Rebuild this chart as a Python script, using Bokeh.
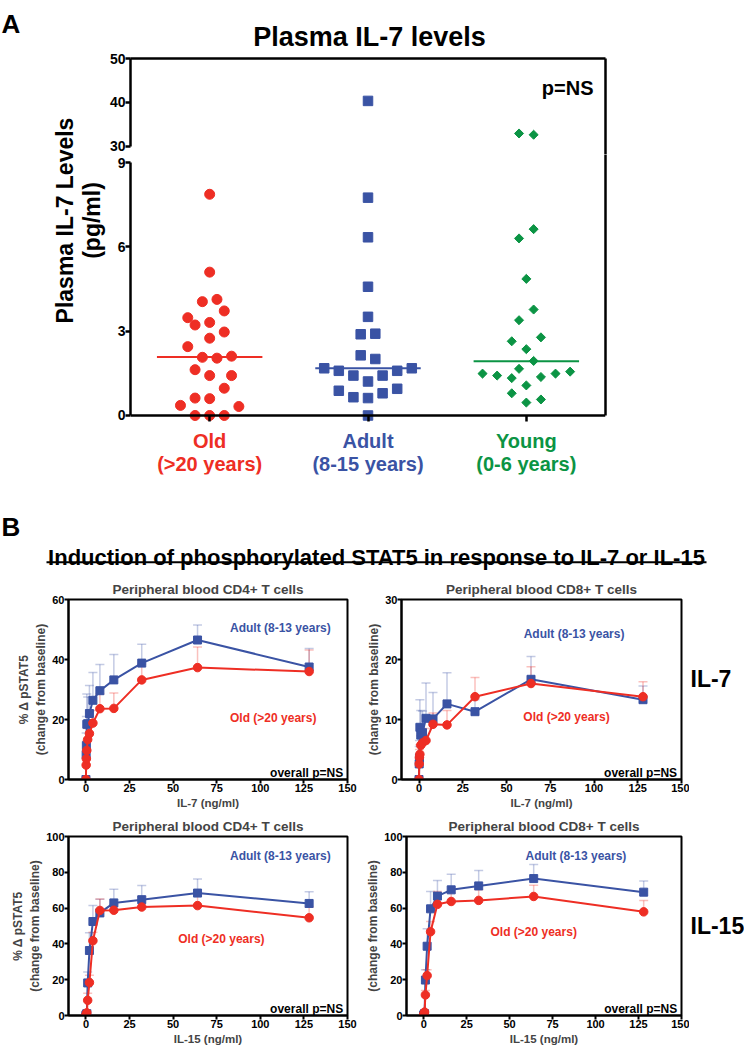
import math
from bokeh.plotting import figure
from bokeh.models import Range1d, LinearAxis, FixedTicker, Label, BoxAnnotation
from bokeh.layouts import column, row
from bokeh.embed import file_html
from bokeh.resources import INLINE

FONT = "Liberation Sans"
RED = "#ee2e24"
BLUE = "#3a53a4"
GREEN = "#0b9444"

# ---------------- Panel A data (plasma IL-7, pg/ml) ----------------
group_names = ["Old", "Adult", "Young"]
group_ages = ["(>20 years)", "(8-15 years)", "(0-6 years)"]
group_colors = [RED, BLUE, GREEN]

old_il7 = [7.87, 5.10, 4.05, 4.13, 3.72, 3.48, 3.22, 3.31, 2.97, 2.75, 2.45, 2.07, 2.04,
           2.11, 1.63, 1.42, 1.42, 0.97, 0.62, 0.60, 0.36, 0.32, 0.0, 0.0, 0.0]
old_slot = [0, 0, -1, 1, 2, -3, -2, 0, 2, 0, -3, -1, 1, 3, -2, 0, 3, 2, -2, 0, -4, 4, -2, 0, 2]
adult_il7 = [40.36, 7.75, 6.34, 4.58, 3.51, 2.89, 2.91, 2.14, 2.01, 1.68, 1.68, 1.59, 1.59,
             1.42, 1.42, 1.21, 0.88, 0.95, 0.65, 0.79, 0.62, 0.0]
adult_slot = [0, 0, 0, 0, 0, -1, 1, -1, 1, -6, 6, -4, 4, -2, 2, 0, -4, 4, -2, 2, 0, 0]
young_il7 = [32.96, 32.67, 6.63, 6.30, 4.86, 3.77, 3.39, 2.78, 2.64, 2.36, 1.94, 1.66, 1.49,
             1.42, 1.33, 1.37, 1.49, 1.56, 1.07, 0.79, 0.57, 0.46]
young_slot = [-1, 1, 1, -1, 0, 1, -1, 2, -2, 0, 1, -1, -6, -4, -2, 2, 4, 6, 0, -2, 2, 0]
medians_il7 = [2.08, 1.68, 1.93]
lower_ticks = [0, 3, 6, 9]
upper_ticks = [30, 40, 50]

# ---------------- Panel B data (% change in pSTAT5) ----------------
doses = [0, 0.125, 0.25, 0.5, 1, 2, 4, 8, 16, 32, 64, 128]
x_ticks = [0, 25, 50, 75, 100, 125, 150]

cd4_il7_adult = [0, 8.3, 11.3, 18.4, 18.6, 22.0, 26.4, 29.6, 33.2, 38.8, 46.5, 37.5]
cd4_il7_adult_sem = [0, 7.2, 9.7, 10.1, 8.9, 9.3, 9.3, 8.7, 8.5, 6.3, 5.0, 6.2]
cd4_il7_old = [0, 4.8, 6.9, 9.7, 13.3, 15.3, 18.8, 23.6, 23.7, 33.2, 37.3, 36.0]
cd4_il7_old_sem = [0, 2.2, 2.6, 3.3, 3.7, 4.2, 4.2, 4.9, 5.1, 5.3, 6.9, 7.2]

cd8_il7_adult = [0, 2.6, 3.6, 8.7, 7.4, 7.8, 10.2, 10.1, 12.6, 11.3, 16.7, 13.3]
cd8_il7_adult_sem = [0, 2.9, 2.9, 4.6, 4.1, 3.6, 5.9, 4.4, 5.2, 2.0, 3.8, 2.3]
cd8_il7_old = [0, 2.6, 3.7, 4.2, 5.7, 6.1, 6.5, 9.2, 9.1, 13.8, 16.0, 13.8]
cd8_il7_old_sem = [0, 0.9, 1.3, 1.6, 1.6, 2.2, 2.0, 1.9, 2.4, 3.2, 2.8, 2.5]

cd4_il15_adult = [0, 0.2, 0.5, 1.0, 18.2, 36.3, 52.5, 57.3, 62.9, 64.7, 68.4, 62.6]
cd4_il15_adult_sem = [0, 0.3, 0.5, 1.0, 6.1, 9.9, 8.9, 7.6, 7.7, 7.9, 7.8, 6.5]
cd4_il15_old = [0, 0.3, 0.8, 1.5, 8.5, 18.4, 41.8, 58.7, 58.8, 60.6, 61.4, 54.6]
cd4_il15_old_sem = [0, 0.3, 0.7, 1.5, 4.0, 4.1, 4.7, 6.4, 3.2, 5.7, 7.0, 5.9]

cd8_il15_adult = [0, 0.3, 0.6, 1.0, 19.8, 38.7, 59.6, 66.7, 70.2, 72.4, 76.5, 68.9]
cd8_il15_adult_sem = [0, 0.3, 0.5, 0.8, 5.8, 9.7, 9.7, 8.7, 8.7, 8.6, 7.9, 6.3]
cd8_il15_old = [0, 0.5, 1.0, 1.9, 11.5, 22.3, 46.8, 62.1, 63.7, 64.3, 66.5, 57.9]
cd8_il15_old_sem = [0, 0.4, 0.6, 1.0, 2.5, 3.3, 5.7, 7.2, 4.8, 6.0, 6.2, 6.3]


def style_axis(ax, size, lw, tick_out, standoff):
    ax.axis_line_color = "black"
    ax.axis_line_width = lw
    ax.major_tick_line_color = "black"
    ax.major_tick_line_width = lw
    ax.major_tick_out = tick_out
    ax.major_tick_in = 0
    ax.minor_tick_line_color = None
    ax.major_label_text_font = FONT
    ax.major_label_text_font_style = "bold"
    ax.major_label_text_font_size = size
    ax.major_label_text_color = "black"
    ax.major_label_standoff = standoff


def bare_axis(**kw):
    ax = LinearAxis(ticker=FixedTicker(ticks=[]), **kw)
    ax.axis_line_color = "black"
    ax.axis_line_width = 2.5
    ax.major_tick_line_color = None
    ax.minor_tick_line_color = None
    return ax


def lab(text, size, color="black", **kw):
    return Label(text=text, text_font=FONT, text_font_style="bold",
                 text_font_size=size, text_color=color, **kw)


def text_fig(w, h, **kw):
    f = figure(width=w, height=h, x_range=Range1d(0, w), y_range=Range1d(0, h),
               x_axis_type=None, y_axis_type=None, output_backend="svg",
               toolbar_location=None, **kw)
    f.outline_line_color = None
    return f


# ================= Panel A header =================
ha = text_fig(744, 50, min_border=0)
ha.add_layout(lab("A", "26px", x=1, y=27, text_align="left", text_baseline="alphabetic"))
ha.add_layout(lab("Plasma IL-7 levels", "27px", x=369, y=14, text_align="center",
                  text_baseline="alphabetic"))

# ================= Panel A y-axis title =================
PANEL_A_H = 434
yl = text_fig(106, PANEL_A_H, min_border=0)
yl.add_layout(lab("Plasma IL-7 Levels", "23px", x=64, y=PANEL_A_H - 170, angle=math.pi / 2,
                  text_align="center", text_baseline="middle"))
yl.add_layout(lab("(pg/ml)", "23px", x=91, y=PANEL_A_H - 170, angle=math.pi / 2,
                  text_align="center", text_baseline="middle"))

# ================= Panel A plot (broken y axis: upper + lower part) =================
SLOT = 0.0461      # x-units per beeswarm half slot
xr = Range1d(0.5, 3.5)

top = figure(width=519, height=104, x_range=xr, y_range=Range1d(28.18, 50),
             x_axis_type=None, y_axis_type=None,
             min_border_left=22, min_border_right=20, min_border_top=8, min_border_bottom=0,
             output_backend="svg", toolbar_location=None)
top.outline_line_color = None
ta = LinearAxis(bounds=(30, 50), ticker=FixedTicker(ticks=upper_ticks))
style_axis(ta, "14px", 2.5, 5, 0)
top.add_layout(ta, "left")
top.add_layout(bare_axis(), "right")
top.add_layout(bare_axis(), "above")

LOW_TOP = 9.285
bot = figure(width=519, height=PANEL_A_H - 104, x_range=xr, y_range=Range1d(-2.099, LOW_TOP),
             x_axis_type=None, y_axis_type=None,
             min_border_left=22, min_border_right=20, min_border_top=0, min_border_bottom=10,
             output_backend="svg", toolbar_location=None)
bot.outline_line_color = None
ba = LinearAxis(bounds=(0, 9), ticker=FixedTicker(ticks=lower_ticks))
style_axis(ba, "14px", 2.5, 5, 0)
bot.add_layout(ba, "left")
bot.add_layout(bare_axis(bounds=(0, LOW_TOP)), "right")
bx = LinearAxis(ticker=FixedTicker(ticks=[1, 2, 3]), fixed_location=0,
                major_label_overrides={1: "", 2: "", 3: ""})
style_axis(bx, "1px", 2.5, 6, 0)
bot.add_layout(bx, "below")

series = [(old_il7, old_slot, "circle", 10, 0.0),
          (adult_il7, adult_slot, "square", 9.5, 0.0),
          (young_il7, young_slot, "square", 6.4, math.pi / 4)]
for gi, (vals, slots, marker, size, ang) in enumerate(series):
    xs = [gi + 1 + s * SLOT for s in slots]
    lo_x = [x for x, v in zip(xs, vals) if v <= 9]
    lo_y = [v for v in vals if v <= 9]
    hi_x = [x for x, v in zip(xs, vals) if v > 9]
    hi_y = [v for v in vals if v > 9]
    bot.scatter(lo_x, lo_y, marker=marker, size=size, angle=ang,
                fill_color=group_colors[gi], line_color=group_colors[gi])
    if hi_x:
        top.scatter(hi_x, hi_y, marker=marker, size=size, angle=ang,
                    fill_color=group_colors[gi], line_color=group_colors[gi])

bot.segment(x0=[i + 1 - 0.333 for i in range(3)], x1=[i + 1 + 0.333 for i in range(3)],
            y0=medians_il7, y1=medians_il7, line_color=group_colors, line_width=2)

top.add_layout(lab("p=NS", "20px", x=3.4245, y=43.4, text_align="right",
                   text_baseline="alphabetic"))
for i, (g, a, c) in enumerate(zip(group_names, group_ages, group_colors)):
    bot.add_layout(lab(g, "20px", c, x=i + 1, y=-0.925, text_align="center",
                       text_baseline="alphabetic"))
    bot.add_layout(lab(a, "20px", c, x=i + 1, y=-1.743, text_align="center",
                       text_baseline="alphabetic"))

panel_a = row(yl, column(top, bot))

# ================= Panel B header =================
hb = text_fig(744, 90, min_border=0)
hb.add_layout(lab("B", "26px", x=1, y=47.3, text_align="left", text_baseline="alphabetic"))
hb.add_layout(lab("Induction of phosphorylated STAT5 in response to IL-7 or IL-15", "22px",
                  x=376, y=17.3, text_align="center", text_baseline="alphabetic"))
hb.add_layout(BoxAnnotation(left=46, right=706, bottom=11.3, top=13.3,
                            fill_color="black", fill_alpha=1.0, line_color=None))


def stat5_panel(title, xlab, ylab, ymax, yticks, adult, adult_sem, old, old_sem,
                adult_xy, old_xy, width, height, bl, br, bt, bb):
    p = figure(width=width, height=height, x_range=Range1d(-10, 150), y_range=Range1d(0, ymax),
               min_border_left=bl, min_border_right=br, min_border_top=bt, min_border_bottom=bb,
               title=title, output_backend="svg", toolbar_location=None)
    p.title.align = "center"
    p.title.text_font = FONT
    p.title.text_font_size = "13.5px"
    p.title.text_font_style = "bold"
    if "standoff" in p.title.properties():
        p.title.standoff = 5
    p.grid.visible = False
    p.outline_line_color = "black"
    p.outline_line_width = 2
    p.outline_line_alpha = 1.0
    for ax in p.axis:
        style_axis(ax, "11px", 2, 4, 0)
        ax.axis_label_text_font = FONT
        ax.axis_label_text_font_style = "bold"
    p.xaxis.ticker = FixedTicker(ticks=x_ticks)
    p.yaxis.ticker = FixedTicker(ticks=yticks)
    p.xaxis.axis_label = xlab
    p.xaxis.axis_label_text_font_size = "11.5px"
    p.xaxis.axis_label_standoff = 2
    p.yaxis.axis_label = ylab
    p.yaxis.axis_label_text_font_size = "12px"
    p.yaxis.axis_label_standoff = 1

    for vals, sem, col in ((adult, adult_sem, BLUE), (old, old_sem, RED)):
        xs = [d for d, s in zip(doses, sem) if s > 0]
        lo = [v for v, s in zip(vals, sem) if s > 0]
        hi = [v + s for v, s in zip(vals, sem) if s > 0]
        p.segment(xs, lo, xs, hi, line_color=col, line_alpha=0.3, line_width=1.5)
        p.scatter(xs, hi, marker="dash", size=9, line_color=col, line_alpha=0.3, line_width=1.5)
    p.line(doses, adult, line_color=BLUE, line_width=2)
    p.scatter(doses, adult, marker="square", size=8, fill_color=BLUE, line_color=BLUE)
    p.line(doses, old, line_color=RED, line_width=2)
    p.scatter(doses, old, marker="circle", size=8.5, fill_color=RED, line_color=RED)

    p.add_layout(lab("Adult (8-13 years)", "12px", BLUE, x=adult_xy[0], y=adult_xy[1],
                     text_align="center", text_baseline="middle"))
    p.add_layout(lab("Old (>20 years)", "12px", RED, x=old_xy[0], y=old_xy[1],
                     text_align="center", text_baseline="middle"))
    p.add_layout(lab("overall p=NS", "12px", x=147.5, y=ymax * 6.5 / 179,
                     text_align="right", text_baseline="alphabetic"))
    return p


def side_fig(text, frac, height, bt, bb):
    f = figure(width=55, height=height, x_range=Range1d(0, 55), y_range=Range1d(0, 1),
               x_axis_type=None, y_axis_type=None, min_border_left=0, min_border_right=0,
               min_border_top=bt, min_border_bottom=bb, output_backend="svg",
               toolbar_location=None)
    f.outline_line_color = None
    f.add_layout(lab(text, "23px", x=1, y=frac, text_align="left", text_baseline="middle"))
    return f


YLAB_FULL = "% \u0394 pSTAT5\n(change from baseline)"
YLAB_PART = "(change from baseline)"

b1 = stat5_panel("Peripheral blood CD4+ T cells", "IL-7 (ng/ml)", YLAB_FULL, 60, [0, 20, 40, 60],
                 cd4_il7_adult, cd4_il7_adult_sem, cd4_il7_old, cd4_il7_old_sem,
                 (111.5, 50.6), (107.4, 20.5), 363, 239, 68, 16, 25, 34)
b2 = stat5_panel("Peripheral blood CD8+ T cells", "IL-7 (ng/ml)", YLAB_PART, 30, [0, 10, 20, 30],
                 cd8_il7_adult, cd8_il7_adult_sem, cd8_il7_old, cd8_il7_old_sem,
                 (88.6, 24.3), (84.3, 10.4), 326, 239, 38, 8, 25, 34)
s1 = side_fig("IL-7", 0.56, 239, 25, 34)
b3 = stat5_panel("Peripheral blood CD4+ T cells", "IL-15 (ng/ml)", YLAB_FULL, 100,
                 [0, 20, 40, 60, 80, 100],
                 cd4_il15_adult, cd4_il15_adult_sem, cd4_il15_old, cd4_il15_old_sem,
                 (111.5, 89.2), (77.7, 42.5), 363, 236, 68, 16, 23, 34)
b4 = stat5_panel("Peripheral blood CD8+ T cells", "IL-15 (ng/ml)", YLAB_PART, 100,
                 [0, 20, 40, 60, 80, 100],
                 cd8_il15_adult, cd8_il15_adult_sem, cd8_il15_old, cd8_il15_old_sem,
                 (88.6, 89.2), (64.0, 46.9), 326, 236, 38, 8, 23, 34)
s2 = side_fig("IL-15", 0.50, 236, 23, 34)

layout = column(ha, panel_a, hb, row(b1, b2, s1), row(b3, b4, s2))
open("out.html", "w").write(file_html(layout, INLINE, title="Plasma IL-7 and pSTAT5"))
